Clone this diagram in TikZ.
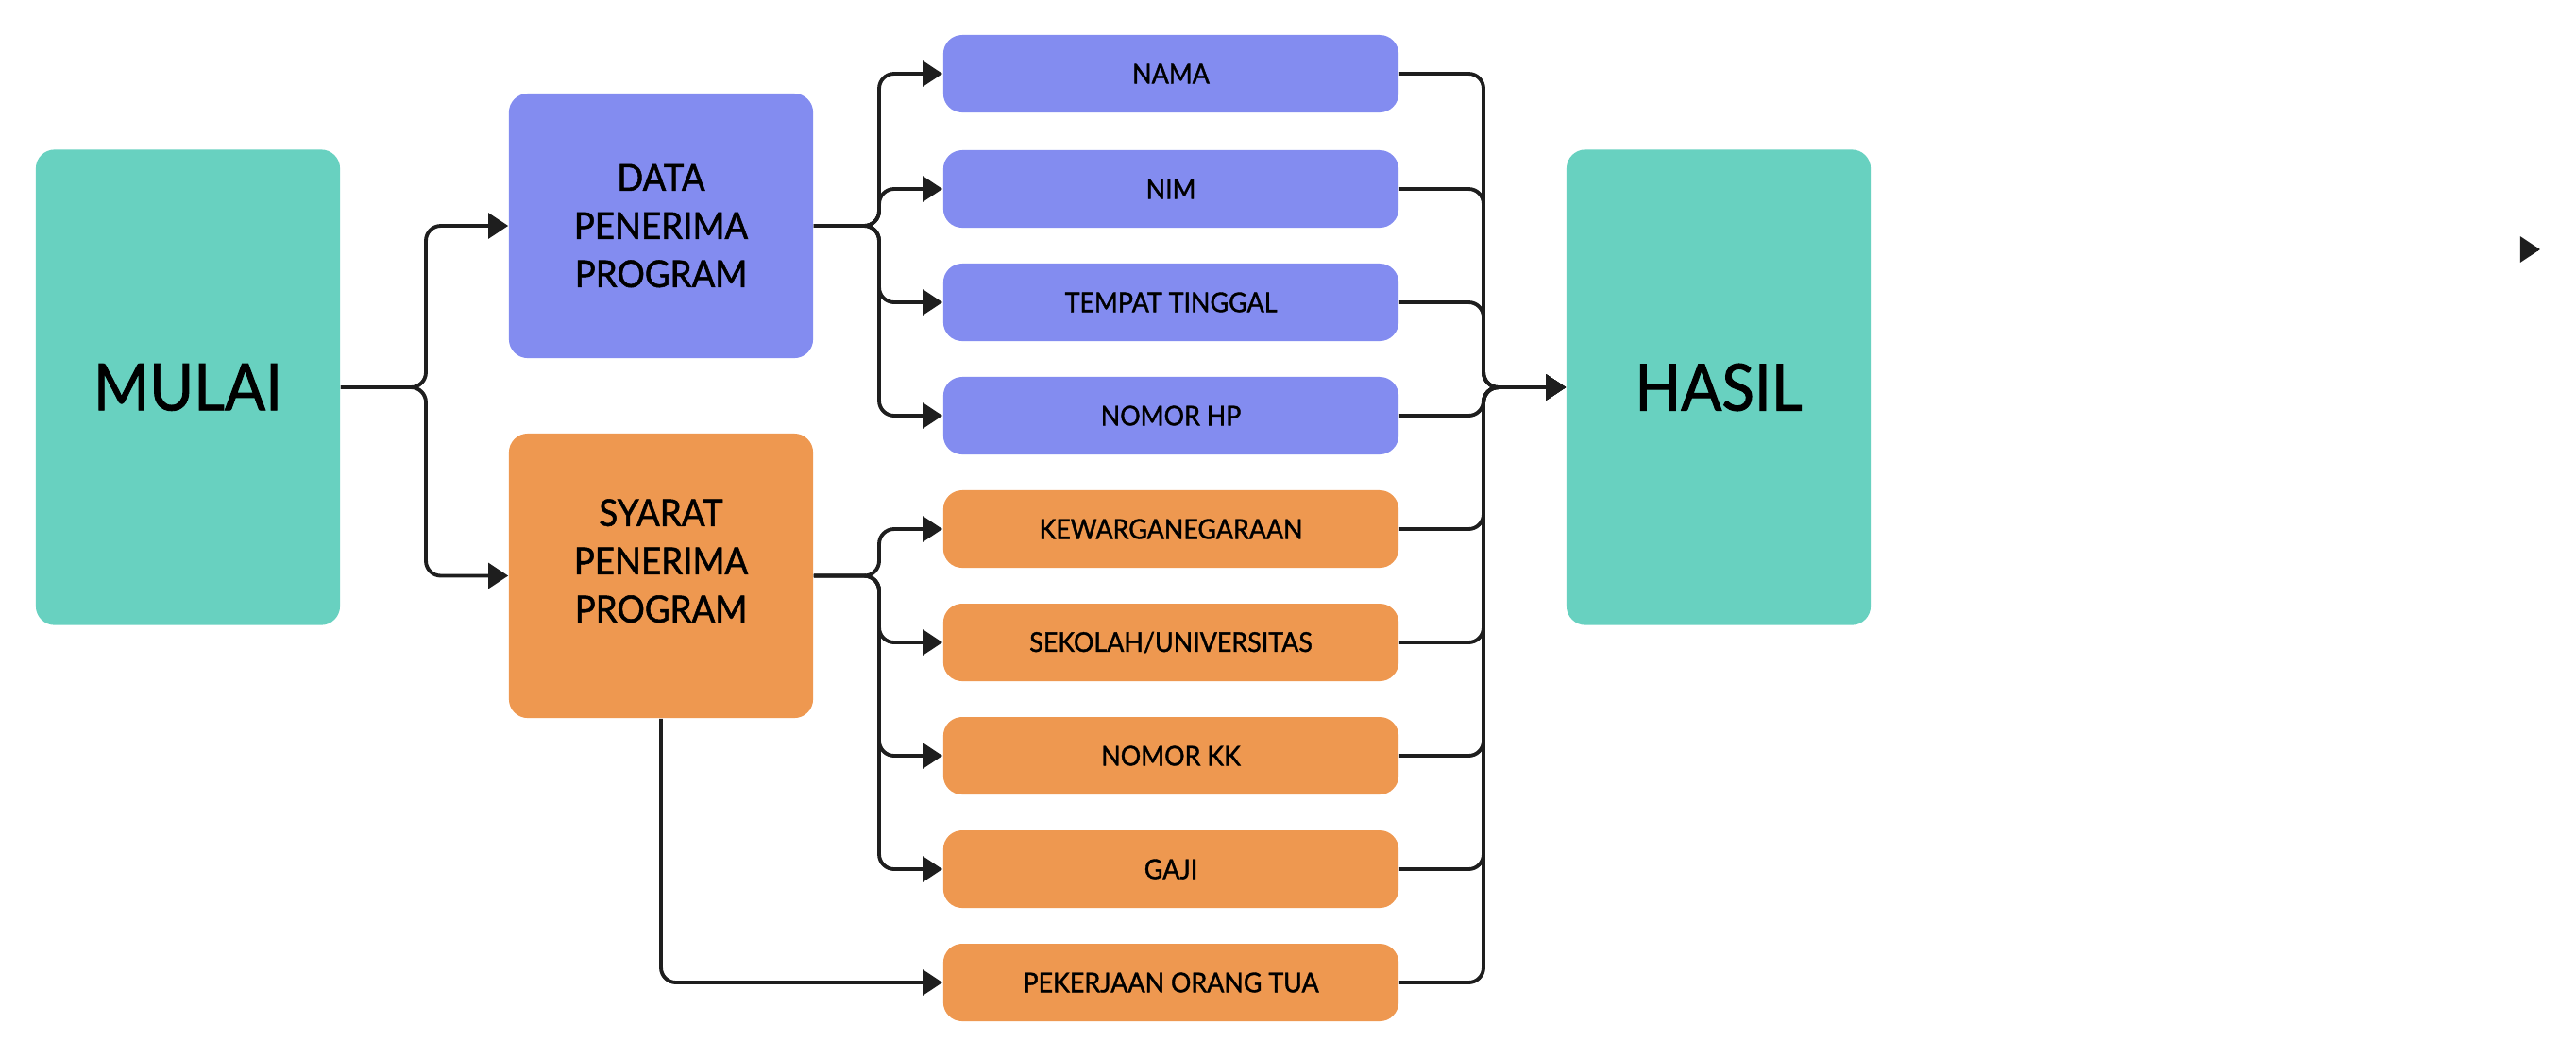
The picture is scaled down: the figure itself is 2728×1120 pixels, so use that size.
\documentclass[tikz,border=0pt]{standalone}
\usepackage{fontspec}
\setmainfont{Lato}[FakeBold=1.3,FakeStretch=0.93]
\usepackage{tikz}
\usetikzlibrary{arrows.meta}
\definecolor{mint}{HTML}{68D1C0}
\definecolor{iris}{HTML}{838CF0}
\definecolor{apricot}{HTML}{EE9850}
\definecolor{ink}{HTML}{1E1E1E}
\tikzset{
  every node/.style={font=\rmfamily},
  box/.style={rounded corners=0.2cm,align=center,inner sep=0pt,text=black},
  endbox/.style={box,fill=mint,minimum width=3.22cm,minimum height=5.03cm,
                 font=\fontsize{19.5}{23}\selectfont},
  grp/.style={box,minimum width=3.22cm,font=\fontsize{11.2}{14.5}\selectfont},
  item/.style={box,minimum width=4.82cm,minimum height=0.82cm,
               font=\fontsize{8.2}{9}\selectfont},
  lbl/.style={align=center,inner sep=0pt,font=\fontsize{11.2}{14.5}\selectfont},
  ar/.style={-{Triangle[length=6pt,width=7.6pt]},draw=ink,line width=1.1pt,
             rounded corners=4.5pt},
}

\begin{document}
\begin{tikzpicture}[x=0.01cm,y=-0.01cm]
\useasboundingbox (0,0) rectangle (2728,1120);
% start and end
\node[endbox] (mulai) at (199,410) {MULAI};
\node[endbox] (hasil) at (1820,410) {HASIL};
% the two groups
\node[grp,fill=iris,minimum height=2.80cm] (data) at (700,239) {DATA\\PENERIMA\\PROGRAM};
\node[grp,fill=apricot,minimum height=3.01cm,
      label={[lbl,yshift=4.5pt]center:{SYARAT\\PENERIMA\\PROGRAM}}] (syarat) at (700,609.5) {};
% items
\node[item,fill=iris] (nama) at (1240,78) {NAMA};
\node[item,fill=iris] (nim) at (1240,200) {NIM};
\node[item,fill=iris] (tempat) at (1240,320) {TEMPAT TINGGAL};
\node[item,fill=iris] (nohp) at (1240,440) {NOMOR HP};
\node[item,fill=apricot] (warga) at (1240,560) {KEWARGANEGARAAN};
\node[item,fill=apricot] (sekolah) at (1240,680) {SEKOLAH/UNIVERSITAS};
\node[item,fill=apricot] (nokk) at (1240,800) {NOMOR KK};
\node[item,fill=apricot] (gaji) at (1240,920) {GAJI};
\node[item,fill=apricot] (kerja) at (1240,1040) {PEKERJAAN ORANG TUA};
% buses
\coordinate (mbus) at (451,0);
\coordinate (dbus) at (931,0);
\coordinate (rbus) at (1571,0);
\coordinate (tip) at (2690,264);
% connectors
\draw[ar] (mulai.east) -- (mulai.east -| mbus) |- (data.west);
\draw[ar] (mulai.east) -- (mulai.east -| mbus) |- (syarat.west);
\draw[ar] (data.east) -- (data.east -| dbus) |- (nama.west);
\draw[ar] (data.east) -- (data.east -| dbus) |- (nim.west);
\draw[ar] (data.east) -- (data.east -| dbus) |- (tempat.west);
\draw[ar] (data.east) -- (data.east -| dbus) |- (nohp.west);
\draw[ar] (syarat.east) -- (syarat.east -| dbus) |- (warga.west);
\draw[ar] (syarat.east) -- (syarat.east -| dbus) |- (sekolah.west);
\draw[ar] (syarat.east) -- (syarat.east -| dbus) |- (nokk.west);
\draw[ar] (syarat.east) -- (syarat.east -| dbus) |- (gaji.west);
\draw[ar] (syarat.south) |- (kerja.west);
\draw[ar] (nama.east) -- (nama.east -| rbus) |- (hasil.west);
\draw[ar] (nim.east) -- (nim.east -| rbus) |- (hasil.west);
\draw[ar] (tempat.east) -- (tempat.east -| rbus) |- (hasil.west);
\draw[ar] (nohp.east) -- (nohp.east -| rbus) |- (hasil.west);
\draw[ar] (warga.east) -- (warga.east -| rbus) |- (hasil.west);
\draw[ar] (sekolah.east) -- (sekolah.east -| rbus) |- (hasil.west);
\draw[ar] (nokk.east) -- (nokk.east -| rbus) |- (hasil.west);
\draw[ar] (gaji.east) -- (gaji.east -| rbus) |- (hasil.west);
\draw[ar] (kerja.east) -- (kerja.east -| rbus) |- (hasil.west);
\draw[ar] ([xshift=-0.5pt]tip) -- (tip);
\end{tikzpicture}
\end{document}
